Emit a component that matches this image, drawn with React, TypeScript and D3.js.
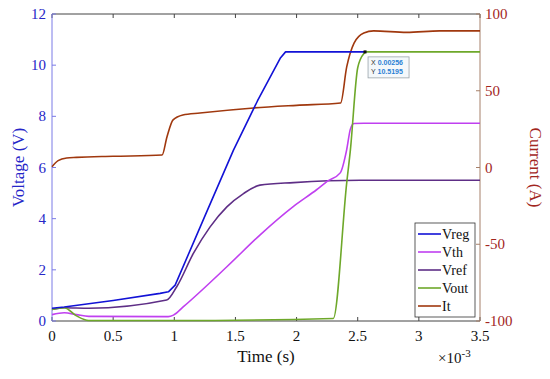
import { useEffect, useRef } from "react";
import * as d3 from "d3";

// time in units of 1e-3 s
const vregT = [0, 0.1, 0.5, 0.884, 0.952, 1.007, 1.25, 1.484, 1.68, 1.866, 1.91, 2.56];
const vregV = [0.5, 0.55, 0.8, 1.08, 1.14, 1.4, 4.1, 6.68, 8.6, 10.27, 10.52, 10.52];

const vthT = [0, 0.1, 0.2, 0.3, 0.95, 0.993, 1.075, 1.43, 1.7, 1.975, 2.166, 2.25, 2.357, 2.41, 2.44, 2.47, 2.55, 3.5];
const vthV = [0.25, 0.32, 0.25, 0.18, 0.17, 0.23, 0.56, 2.12, 3.36, 4.48, 5.14, 5.46, 5.79, 6.7, 7.5, 7.72, 7.73, 7.73];

const vrefT = [0, 0.1, 0.3, 0.938, 1.02, 1.156, 1.293, 1.43, 1.566, 1.7, 1.975, 2.52, 3.5];
const vrefV = [0.45, 0.52, 0.5, 0.82, 1.34, 2.64, 3.68, 4.46, 4.98, 5.31, 5.41, 5.5, 5.5];

const voutT = [0, 0.1, 0.2, 0.3, 1.0, 2.3, 2.41, 2.44, 2.5, 2.55, 2.57, 3.5];
const voutV = [0.45, 0.52, 0.2, 0.02, 0.02, 0.1, 5.4, 6.68, 9.9, 10.45, 10.52, 10.52];

const itT = [0, 0.05, 0.12, 0.2, 0.5, 0.9, 0.94, 0.99, 1.07, 1.21, 1.65, 2.0, 2.36, 2.41, 2.47, 2.55, 2.63, 2.9, 3.17, 3.5];
const itV = [0.5, 4.5, 6.2, 6.6, 7.3, 8.1, 19.9, 31, 34.2, 35.5, 38.8, 40.5, 42, 65.5, 81, 87.6, 89, 88, 89, 89];

const seriesNames = ["Vreg", "Vth", "Vref", "Vout", "It"];
const seriesColors = ["#1212d6", "#c040f0", "#5e2e86", "#6ea82a", "#a0380e"];

const xTicks = [0, 0.5, 1, 1.5, 2, 2.5, 3, 3.5];
const yTicks = [0, 2, 4, 6, 8, 10, 12];
const y2Ticks = [-100, -50, 0, 50, 100];

const font = "'Liberation Serif', 'Times New Roman', serif";

export default function App() {
  const ref = useRef<SVGSVGElement>(null);

  useEffect(() => {
    const svg = d3.select(ref.current);
    svg.selectAll("*").remove();

    const left = 52, right = 480, top = 14, bottom = 321;
    const x = d3.scaleLinear().domain([0, 3.5]).range([left, right]);
    const y = d3.scaleLinear().domain([0, 12]).range([bottom, top]);
    const y2 = d3.scaleLinear().domain([-100, 100]).range([bottom, top]);

    svg.append("rect").attr("width", 550).attr("height", 379).attr("fill", "#fff");

    // box: top and bottom
    svg.append("line").attr("x1", left).attr("x2", right).attr("y1", top).attr("y2", top).attr("stroke", "#444");
    svg.append("line").attr("x1", left).attr("x2", right).attr("y1", bottom).attr("y2", bottom).attr("stroke", "#444");

    // x ticks
    xTicks.forEach((t) => {
      svg.append("line").attr("x1", x(t)).attr("x2", x(t)).attr("y1", bottom).attr("y2", bottom - 4).attr("stroke", "#444");
      svg.append("line").attr("x1", x(t)).attr("x2", x(t)).attr("y1", top).attr("y2", top + 4).attr("stroke", "#444");
      svg.append("text").attr("x", x(t)).attr("y", 341).attr("text-anchor", "middle")
        .style("font-family", font).attr("font-size", 15).attr("fill", "#111").text(String(t));
    });

    // left axis
    svg.append("line").attr("x1", left).attr("x2", left).attr("y1", top).attr("y2", bottom).attr("stroke", "#7a7ae6");
    yTicks.forEach((t) => {
      svg.append("line").attr("x1", left).attr("x2", left + 4).attr("y1", y(t)).attr("y2", y(t)).attr("stroke", "#7a7ae6");
      svg.append("text").attr("x", left - 6).attr("y", y(t) + 5).attr("text-anchor", "end")
        .style("font-family", font).attr("font-size", 15).attr("fill", "#2626c8").text(String(t));
    });

    // right axis
    svg.append("line").attr("x1", right).attr("x2", right).attr("y1", top).attr("y2", bottom).attr("stroke", "#a6806a");
    y2Ticks.forEach((t) => {
      svg.append("line").attr("x1", right).attr("x2", right - 4).attr("y1", y2(t)).attr("y2", y2(t)).attr("stroke", "#a6806a");
      svg.append("text").attr("x", right + 5).attr("y", y2(t) + 5).attr("text-anchor", "start")
        .style("font-family", font).attr("font-size", 15).attr("fill", "#a2261e").text(String(t));
    });

    // axis labels
    svg.append("text").attr("transform", `translate(24,${(top + bottom) / 2}) rotate(-90)`)
      .attr("text-anchor", "middle").style("font-family", font).attr("font-size", 17).attr("fill", "#2626c8")
      .text("Voltage (V)");
    svg.append("text").attr("transform", `translate(530,${(top + bottom) / 2}) rotate(90)`)
      .attr("text-anchor", "middle").style("font-family", font).attr("font-size", 17).attr("fill", "#a2261e")
      .text("Current (A)");
    svg.append("text").attr("x", (left + right) / 2).attr("y", 362).attr("text-anchor", "middle")
      .style("font-family", font).attr("font-size", 17).attr("fill", "#111").text("Time (s)");
    const exp = svg.append("text").attr("x", 438).attr("y", 363).style("font-family", font)
      .attr("font-size", 15).attr("fill", "#111");
    exp.append("tspan").text("\u00d710");
    exp.append("tspan").attr("dy", -6).attr("font-size", 11).text("-3");

    // series
    const zip = (a: number[], b: number[]) => a.map((v, i) => [v, b[i]] as [number, number]);
    const smooth = d3.line<[number, number]>().x((d) => x(d[0])).y((d) => y(d[1])).curve(d3.curveMonotoneX);
    const straight = d3.line<[number, number]>().x((d) => x(d[0])).y((d) => y(d[1]));
    const line2 = d3.line<[number, number]>().x((d) => x(d[0])).y((d) => y2(d[1])).curve(d3.curveMonotoneX);

    const g = svg.append("g");
    const draw = (path: string | null, c: string) =>
      g.append("path").attr("d", path).attr("fill", "none").attr("stroke", c).attr("stroke-width", 1.6)
        .attr("stroke-linejoin", "round");
    draw(line2(zip(itT, itV)), seriesColors[4]);
    draw(smooth(zip(vrefT, vrefV)), seriesColors[2]);
    draw(smooth(zip(vthT, vthV)), seriesColors[1]);
    draw(smooth(zip(voutT, voutV)), seriesColors[3]);
    draw(straight(zip(vregT, vregV)), seriesColors[0]);

    // datatip
    const tipX = x(2.56), tipY = y(10.5195);
    svg.append("rect").attr("x", tipX - 1.5).attr("y", tipY - 1.5).attr("width", 3).attr("height", 3).attr("fill", "#111");
    svg.append("rect").attr("x", tipX + 3).attr("y", tipY + 5).attr("width", 41).attr("height", 21)
      .attr("fill", "#f4f8fb").attr("stroke", "#9aa4aa").attr("stroke-width", 0.8);
    const tipFont = "'Liberation Sans', Arial, sans-serif";
    [["X ", "0.00256"], ["Y ", "10.5195"]].forEach(([k, v], i) => {
      const t = svg.append("text").attr("x", tipX + 6).attr("y", tipY + 13.5 + i * 9)
        .style("font-family", tipFont).attr("font-size", 7);
      t.append("tspan").attr("fill", "#333").text(k);
      t.append("tspan").attr("fill", "#2a7fd4").attr("font-weight", "bold").text(v);
    });

    // legend
    const lg = svg.append("g");
    lg.append("rect").attr("x", 415).attr("y", 223).attr("width", 60).attr("height", 94)
      .attr("fill", "#fff").attr("stroke", "#333").attr("stroke-width", 0.8);
    seriesNames.forEach((n, i) => {
      const yy = 234 + i * 18;
      lg.append("line").attr("x1", 418).attr("x2", 441).attr("y1", yy).attr("y2", yy)
        .attr("stroke", seriesColors[i]).attr("stroke-width", 1.6);
      lg.append("text").attr("x", 442).attr("y", yy + 5).style("font-family", font).attr("font-size", 14)
        .attr("fill", "#111").text(n);
    });
  }, []);

  return (
    <svg ref={ref} width={550} height={379} style={{ position: "absolute", left: 0, top: 0 }} />
  );
}
